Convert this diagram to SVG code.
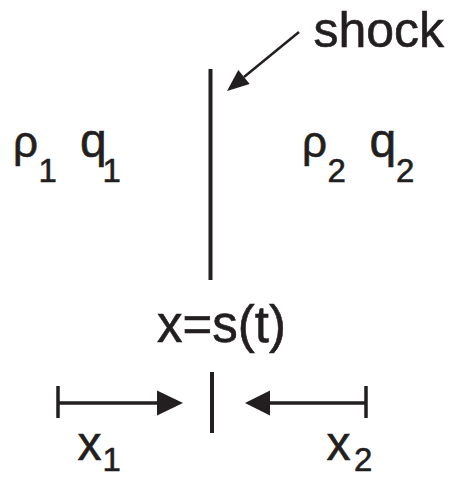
<svg xmlns="http://www.w3.org/2000/svg" width="451" height="479" viewBox="0 0 451 479">
<style>
.t{font-family:"Liberation Sans",Arial,sans-serif;fill:#231f20;stroke:#231f20;stroke-width:0.6}
.s{font-size:33px}
.ln{stroke:#231f20;fill:none}
.hd{fill:#231f20;stroke:none}
</style>
<rect width="451" height="479" fill="#ffffff"/>
<g id="shock-label">
<text class="t" x="313.5" y="46.5" font-size="50">shock</text>
</g>
<g id="shock-line">
<line class="ln" x1="210.5" y1="69" x2="210.5" y2="280" stroke-width="4"/>
</g>
<g id="left-state">
<text class="t" x="13" y="157" font-size="44">ρ<tspan class="s" x="38.5" y="182">1</tspan></text>
<text class="t" x="80" y="157" font-size="48">q<tspan class="s" x="102.4" y="182">1</tspan></text>
</g>
<g id="right-state">
<text class="t" x="302" y="157" font-size="44">ρ<tspan class="s" x="327.5" y="182">2</tspan></text>
<text class="t" x="369.4" y="157" font-size="48">q<tspan class="s" x="396" y="182">2</tspan></text>
</g>
<g id="position-label">
<text class="t" x="157" y="342" font-size="51">x=s(t)</text>
</g>
<g id="shock-mark">
<line class="ln" x1="212" y1="372" x2="212" y2="433" stroke-width="4"/>
</g>
<g id="x1-label">
<text class="t" x="77.5" y="460" font-size="48">x<tspan class="s" x="102.4" y="471">1</tspan></text>
</g>
<g id="x2-label">
<text class="t" x="326.5" y="460" font-size="48">x<tspan class="s" x="354" y="471">2</tspan></text>
</g>
<g id="connectors">
<line class="ln" x1="299" y1="32" x2="244" y2="77" stroke-width="2.5"/>
<polygon class="hd" points="227,91 249.7,84 238.3,70"/>
<line class="ln" x1="58" y1="386" x2="58" y2="418" stroke-width="3.5"/>
<line class="ln" x1="58" y1="403" x2="160" y2="403" stroke-width="3.5"/>
<polygon class="hd" points="183,403 157,390.5 157,415.5"/>
<line class="ln" x1="366" y1="386" x2="366" y2="418" stroke-width="3.5"/>
<line class="ln" x1="366" y1="403" x2="267" y2="403" stroke-width="3.5"/>
<polygon class="hd" points="245,403 270,390.5 270,415.5"/>
</g>
</svg>
